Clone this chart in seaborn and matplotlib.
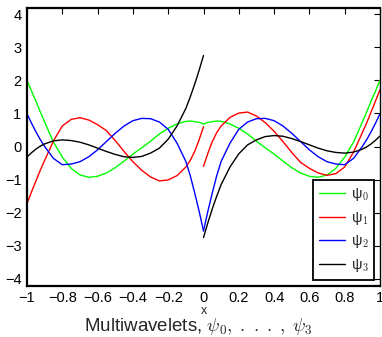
import numpy as np
import pandas as pd
import matplotlib
matplotlib.use("Agg")
import matplotlib.pyplot as plt
import seaborn as sns
from matplotlib.lines import Line2D

# ---- data ----
x_left = [-1.0, -0.975, -0.95, -0.925, -0.9, -0.85, -0.8, -0.75, -0.7, -0.65, -0.6,
          -0.55, -0.5, -0.45, -0.4, -0.35, -0.3, -0.25, -0.2, -0.15, -0.1,
          -0.075, -0.05, -0.025, 0.0]
x_right = [0.0, 0.025, 0.05, 0.075, 0.1, 0.15, 0.2, 0.25, 0.3, 0.35, 0.4,
           0.45, 0.5, 0.55, 0.6, 0.65, 0.7, 0.75, 0.8, 0.85, 0.9,
           0.925, 0.95, 0.975, 1.0]

psi0_left = [2.0, 1.68, 1.38, 1.05, 0.74, 0.13, -0.32, -0.66, -0.86, -0.93, -0.90,
             -0.80, -0.64, -0.44, -0.23, -0.04, 0.16, 0.38, 0.55, 0.68, 0.76,
             0.77, 0.75, 0.73, 0.68]
psi0_right = [0.68, 0.73, 0.75, 0.77, 0.76, 0.68, 0.55, 0.38, 0.16, -0.04, -0.23,
              -0.44, -0.64, -0.80, -0.90, -0.93, -0.86, -0.66, -0.32, 0.13, 0.74,
              1.05, 1.38, 1.68, 2.0]

psi1_left = [-1.72, -1.38, -1.05, -0.72, -0.42, 0.17, 0.62, 0.82, 0.87, 0.80, 0.66,
             0.48, 0.18, -0.15, -0.46, -0.72, -0.92, -1.04, -1.01, -0.88, -0.62,
             -0.42, -0.15, 0.20, 0.60]
psi1_right = [-0.60, -0.20, 0.15, 0.42, 0.62, 0.88, 1.01, 1.04, 0.92, 0.72, 0.46,
              0.15, -0.18, -0.48, -0.66, -0.80, -0.87, -0.82, -0.62, -0.17, 0.42,
              0.72, 1.05, 1.38, 1.72]

psi2_left = [0.99, 0.71, 0.45, 0.21, 0.0, -0.36, -0.55, -0.53, -0.46, -0.31, -0.10,
             0.15, 0.40, 0.62, 0.78, 0.85, 0.84, 0.74, 0.52, 0.10, -0.45,
             -0.88, -1.40, -1.95, -2.55]
psi2_right = [-2.55, -1.95, -1.40, -0.88, -0.45, 0.10, 0.52, 0.74, 0.84, 0.85, 0.78,
              0.62, 0.40, 0.15, -0.10, -0.31, -0.46, -0.53, -0.55, -0.36, 0.0,
              0.21, 0.45, 0.71, 0.99]

psi3_left = [-0.32, -0.19, -0.08, 0.01, 0.08, 0.17, 0.20, 0.18, 0.13, 0.05, -0.05,
             -0.15, -0.24, -0.31, -0.33, -0.30, -0.20, -0.05, 0.22, 0.62, 1.15,
             1.50, 1.88, 2.30, 2.75]
psi3_right = [-2.75, -2.30, -1.88, -1.50, -1.15, -0.62, -0.22, 0.05, 0.20, 0.30, 0.33,
              0.31, 0.24, 0.15, 0.05, -0.05, -0.13, -0.18, -0.20, -0.17, -0.08,
              -0.01, 0.08, 0.19, 0.32]

series_names = ["psi0", "psi1", "psi2", "psi3"]
legend_labels = ["ψ$_0$", "ψ$_1$", "ψ$_2$", "ψ$_3$"]
colors = ["#00ff00", "#ff0000", "#0000ff", "#000000"]
x_ticks = [-1, -0.8, -0.6, -0.4, -0.2, 0, 0.2, 0.4, 0.6, 0.8, 1]
x_ticklabels = ["\u22121", "\u22120.8", "\u22120.6", "\u22120.4", "\u22120.2", "0",
                "0.2", "0.4", "0.6", "0.8", "1"]
y_ticks = [-4, -3, -2, -1, 0, 1, 2, 3, 4]
y_ticklabels = ["\u22124", "\u22123", "\u22122", "\u22121", "0", "1", "2", "3", "4"]
caption_text = "Multiwavelets, "
caption_math = r"$\psi_0,\;.\;.\;.\;,\;\psi_3$"

left_vals = [psi0_left, psi1_left, psi2_left, psi3_left]
right_vals = [psi0_right, psi1_right, psi2_right, psi3_right]

rows = []
for name, lv, rv in zip(series_names, left_vals, right_vals):
    for xv, yv in zip(x_left, lv):
        rows.append((name, "L", xv, yv))
    for xv, yv in zip(x_right, rv):
        rows.append((name, "R", xv, yv))
df = pd.DataFrame(rows, columns=["curve", "seg", "x", "y"])

sns.set_style("white")
plt.rcParams["font.family"] = ["Liberation Sans", "DejaVu Sans"]
plt.rcParams["mathtext.fontset"] = "cm"

fig = plt.figure(figsize=(3.82, 3.37), dpi=100)
ax = fig.add_axes([27 / 382, 1 - 285.5 / 337, 353 / 382, 278 / 337])

for name, col in zip(series_names, colors):
    for seg in ["L", "R"]:
        sub = df[(df.curve == name) & (df.seg == seg)]
        sns.lineplot(data=sub, x="x", y="y", ax=ax, color=col, linewidth=1.0,
                     estimator=None, sort=False, legend=False)

ax.set_xlim(-1, 1)
ax.set_ylim(-4.2, 4.2)
ax.set_xticks(x_ticks)
ax.set_xticklabels(x_ticklabels)
ax.set_yticks(y_ticks)
ax.set_yticklabels(y_ticklabels)
ax.tick_params(direction="in", length=4, width=0.8, top=True, right=True,
               labelsize=10.5, pad=4, colors="black")
for s in ["left", "bottom", "top"]:
    ax.spines[s].set_linewidth(1.6)
    ax.spines[s].set_color("black")
ax.spines["right"].set_linewidth(1.0)
ax.spines["right"].set_color("black")
ax.set_xlabel("x", fontsize=9, labelpad=0)
ax.set_ylabel("")

handles = [Line2D([0], [0], color=c, lw=1.0) for c in colors]
leg = ax.legend(handles, legend_labels, loc="lower right", fontsize=10.5,
                frameon=True, fancybox=False, framealpha=1, edgecolor="black",
                handlelength=1.8, borderaxespad=0.4, labelspacing=0.45,
                handletextpad=0.4, borderpad=0.4)
leg.get_frame().set_linewidth(1.3)

fig.text(84 / 382, 1 - 326.5 / 337, caption_text + caption_math, ha="left",
         va="center", fontsize=13.5)

fig.savefig("out.png", dpi=100)
